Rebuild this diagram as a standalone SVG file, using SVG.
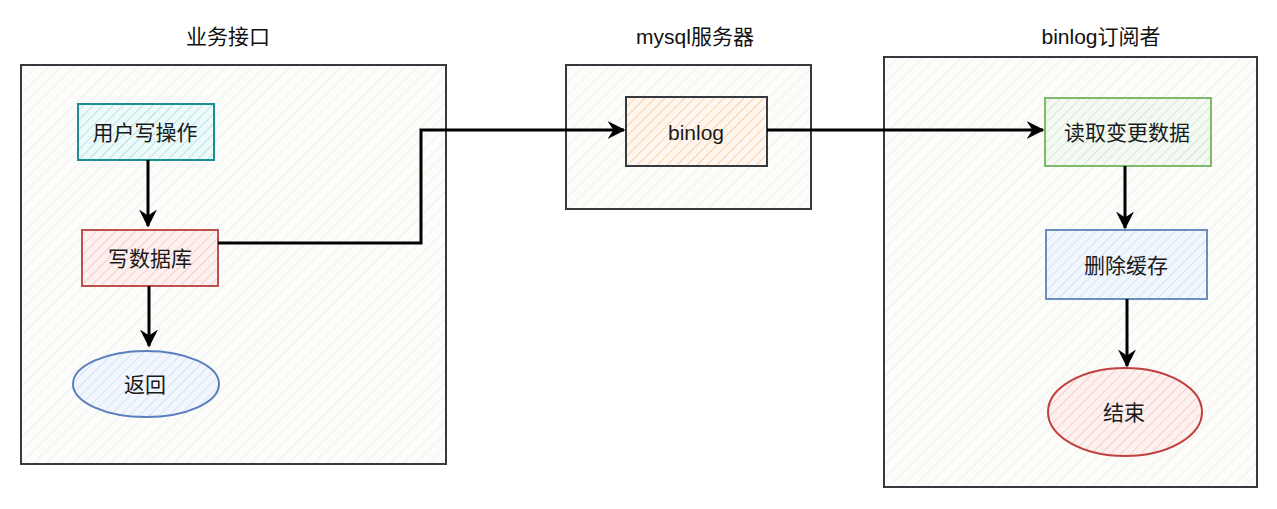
<svg xmlns="http://www.w3.org/2000/svg" width="1277" height="509" viewBox="0 0 1277 509">
<style>
.t{font-family:"Liberation Sans","Noto Sans CJK SC",sans-serif;font-size:21px;fill:#1a1a1a;text-anchor:middle;dominant-baseline:central}
.ttl{font-family:"Liberation Sans","Noto Sans CJK SC",sans-serif;font-size:21px;fill:#111;text-anchor:middle;dominant-baseline:central}
.cont{stroke:#36393d;stroke-width:2;fill:url(#hGrey)}
.edge{fill:none;stroke:#000;stroke-width:3}
</style>
<defs>
<pattern id="hGrey" width="9" height="9" patternUnits="userSpaceOnUse" patternTransform="rotate(45)"><rect width="9" height="9" fill="#fcfcfa"/><line x1="0" y1="0" x2="0" y2="9" stroke="#e8e8e2" stroke-width="1.2"/></pattern>
<pattern id="hTeal" width="7" height="7" patternUnits="userSpaceOnUse" patternTransform="rotate(45)"><rect width="7" height="7" fill="#eef9fa"/><line x1="0" y1="0" x2="0" y2="7" stroke="#a8dfe3" stroke-width="1.6"/></pattern>
<pattern id="hRed" width="7" height="7" patternUnits="userSpaceOnUse" patternTransform="rotate(45)"><rect width="7" height="7" fill="#fdf1f0"/><line x1="0" y1="0" x2="0" y2="7" stroke="#f5c4c1" stroke-width="1.6"/></pattern>
<pattern id="hBlue" width="7" height="7" patternUnits="userSpaceOnUse" patternTransform="rotate(45)"><rect width="7" height="7" fill="#f2f6fd"/><line x1="0" y1="0" x2="0" y2="7" stroke="#cfdff7" stroke-width="1.6"/></pattern>
<pattern id="hGreen" width="7" height="7" patternUnits="userSpaceOnUse" patternTransform="rotate(45)"><rect width="7" height="7" fill="#f4faf3"/><line x1="0" y1="0" x2="0" y2="7" stroke="#cbe5c6" stroke-width="1.6"/></pattern>
<pattern id="hOrange" width="7" height="7" patternUnits="userSpaceOnUse" patternTransform="rotate(45)"><rect width="7" height="7" fill="#fff7ef"/><line x1="0" y1="0" x2="0" y2="7" stroke="#fbc89b" stroke-width="1.6"/></pattern>
<marker id="arr" viewBox="0 0 12 12" refX="11" refY="6" markerWidth="6" markerHeight="6" markerUnits="strokeWidth" orient="auto"><path d="M0,0 L12,6 L0,12 L4,6 Z" fill="#000"/></marker>
</defs>

<g id="titles">
<text class="ttl" x="228" y="36">业务接口</text>
<text class="ttl" x="695" y="36">mysql服务器</text>
<text class="ttl" x="1101" y="36">binlog订阅者</text>
</g>

<g id="container-business"><rect class="cont" x="21" y="65" width="425" height="399"/></g>
<g id="container-mysql"><rect class="cont" x="566" y="65" width="245" height="144"/></g>
<g id="container-subscriber"><rect class="cont" x="884" y="57" width="373" height="430"/></g>

<g id="node-user-write"><rect x="78" y="104" width="136" height="56" fill="url(#hTeal)" stroke="#1a8f8f" stroke-width="2"/><text class="t" x="145" y="132">用户写操作</text></g>
<g id="node-write-db"><rect x="82" y="230" width="136" height="56" fill="url(#hRed)" stroke="#c0504d" stroke-width="2"/><text class="t" x="150" y="258">写数据库</text></g>
<g id="node-return"><ellipse cx="146" cy="384" rx="73" ry="33" fill="url(#hBlue)" stroke="#5b7fbd" stroke-width="2"/><text class="t" x="145" y="384">返回</text></g>

<g id="node-binlog"><rect x="626" y="97" width="141" height="69" fill="url(#hOrange)" stroke="#36393d" stroke-width="2"/><text class="t" x="696" y="132">binlog</text></g>

<g id="node-read-change"><rect x="1045" y="98" width="166" height="68" fill="url(#hGreen)" stroke="#7fba6a" stroke-width="2"/><text class="t" x="1127" y="132">读取变更数据</text></g>
<g id="node-delete-cache"><rect x="1046" y="230" width="161" height="69" fill="url(#hBlue)" stroke="#6c8ebf" stroke-width="2"/><text class="t" x="1126" y="265">删除缓存</text></g>
<g id="node-end"><ellipse cx="1125" cy="412" rx="77" ry="44" fill="url(#hRed)" stroke="#c0403d" stroke-width="2"/><text class="t" x="1124" y="412">结束</text></g>

<g id="connectors">
<path class="edge" d="M148,160 L148,226" marker-end="url(#arr)"/>
<path class="edge" d="M149,286 L149,346" marker-end="url(#arr)"/>
<path class="edge" d="M218,243 L421,243 L421,130 L624,130" marker-end="url(#arr)"/>
<path class="edge" d="M767,130 L1043,130" marker-end="url(#arr)"/>
<path class="edge" d="M1125,166 L1125,228" marker-end="url(#arr)"/>
<path class="edge" d="M1127,299 L1127,366" marker-end="url(#arr)"/>
</g>
</svg>
